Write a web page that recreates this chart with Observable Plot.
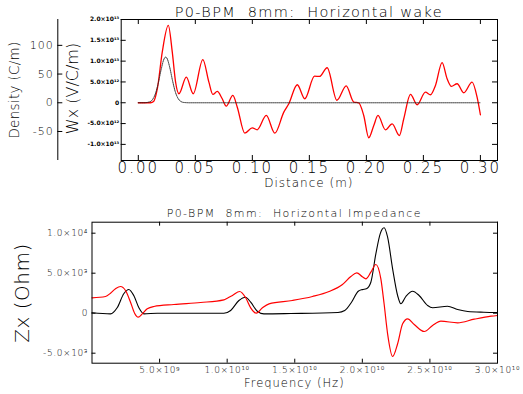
<!DOCTYPE html>
<html><head><meta charset="utf-8">
<script src="https://cdn.jsdelivr.net/npm/d3@7"></script>
<script src="https://cdn.jsdelivr.net/npm/@observablehq/plot@0.6"></script>
<style>
body{margin:0;background:#fff;}
#wrap{position:relative;width:523px;height:394px;}
#wrap svg{position:absolute;left:0;overflow:visible;background:transparent;}
</style></head><body><div id="wrap"></div>
<script>
// ---------- Top panel: horizontal wake ----------
const wakeS = [0, 0.0108, 0.0134, 0.0167, 0.0210, 0.0263, 0.0298, 0.0327, 0.0356, 0.0421, 0.0482, 0.0566, 0.0619, 0.0654, 0.0692, 0.0736, 0.0771, 0.0829, 0.0868, 0.0934, 0.0999, 0.1043, 0.1122, 0.1197, 0.1276, 0.1320, 0.1394, 0.1460, 0.1545, 0.1589, 0.1656, 0.1742, 0.1823, 0.1890, 0.1933, 0.1977, 0.2021, 0.2065, 0.2102, 0.2167, 0.2226, 0.2290, 0.2328, 0.2387, 0.2445, 0.2518, 0.2562, 0.2606, 0.2664, 0.2708, 0.2746, 0.2796, 0.2854, 0.2927, 0.2971, 0.3000];
// Wx in units of 1e12 V/C/m
const wakeWx = [0, 0, 0.3, 3.37, 12.16, 18.58, 12.16, 4.95, 2.16, 6.15, 2.16, 10.34, 4.95, 2.0, 2.72, 0.96, -0.82, 1.75, -1.06, -7.31, -6.01, -6.49, -3.05, -7.31, -2.26, -0.24, 4.33, 0.96, 6.39, 6.32, 8.41, 0.6, 4.04, 0.14, 0, -3.05, -8.41, -5.46, -3.05, -6.49, -5.05, -7.86, -3.85, 2.0, -0.48, 2.55, 1.92, 4.16, 9.62, 5.77, 3.92, 4.57, 2.40, 4.95, 1.35, -2.88];
const densS = [0, 0.005, 0.010, 0.0125, 0.015, 0.0175, 0.020, 0.0225, 0.024, 0.025, 0.0275, 0.030, 0.0325, 0.035, 0.0375, 0.040, 0.045, 0.300];
// density in C/m
const densV = [0, 0, 1.6, 5.6, 15.7, 34.1, 57.7, 76, 79.5, 77.9, 62.2, 38.7, 18.7, 7.1, 2.1, 0.5, 0, 0];

const distTicks = [0, 0.05, 0.10, 0.15, 0.20, 0.25, 0.30];
const distLabels = ["0.00", "0.05", "0.10", "0.15", "0.20", "0.25", "0.30"];
const wxTicks = [-10, -5, 0, 5, 10, 15, 20];
const wxLabels = ["-1.0×10¹³", "-5.0×10¹²", "0", "5.0×10¹²", "1.0×10¹³", "1.5×10¹³", "2.0×10¹³"];
const densTicks = [-50, 0, 50, 100];
const densLabels = ["-50", "0", "50", "100"];
const wxDomain = [-13.87, 20];
const densDomain = [-100.5, 145];
const distDomain = [-0.015, 0.315];

// ---------- Bottom panel: horizontal impedance ----------
const fRed = [0, 1.0, 1.37, 1.74, 2.11, 2.48, 2.85, 3.15, 3.42, 3.72, 4.09, 4.58, 6.06, 8.04, 9.76, 10.01, 10.39, 10.93, 11.37, 11.74, 12.16, 12.61, 13.10, 14.83, 16.31, 17.54, 18.53, 19.15, 19.59, 20.0, 20.26, 20.63, 21.0, 21.37, 21.61, 21.87, 22.24, 22.61, 22.98, 23.35, 23.84, 24.58, 25.2, 25.81, 27.05, 28.28, 29.52, 30.0]; // GHz
const zRed = [1925, 2088, 2500, 3050, 3338, 2838, 1375, 0, -500, -83, 550, 838, 1088, 1338, 1675, 1875, 2213, 2713, 1925, 675, 0, 675, 1175, 1588, 2088, 2713, 3588, 4588, 5050, 4550, 4300, 5125, 6088, 4300, 1175, -2575, -5413, -3825, -1325, -700, -1413, -2288, -1538, -1000, -1200, -750, -375, -288];
const fBlack = [0, 1.37, 1.86, 2.35, 2.72, 3.09, 3.47, 3.84, 4.83, 9.76, 10.26, 10.87, 11.36, 11.74, 12.23, 12.72, 14.7, 18.2, 18.7, 19.2, 19.7, 20.0, 20.3, 20.63, 21.0, 21.32, 21.61, 21.87, 22.24, 22.61, 22.85, 23.22, 23.72, 24.2, 24.83, 25.2, 26.3, 27.05, 27.8, 29.0, 30.0]; // GHz
const zBlack = [50, -83, 675, 2425, 2963, 2213, 675, -83, 0, 0, 338, 1588, 2000, 1375, 250, -83, -40, 88, 338, 1375, 2750, 2950, 3050, 3875, 7425, 9925, 10675, 9500, 5550, 2213, 1175, 2088, 2750, 2213, 963, 675, 875, 463, 213, 125, 88];

const freqTicks = [5, 10, 15, 20, 25, 30];
const freqLabels = ["5.0×10⁹", "1.0×10¹⁰", "1.5×10¹⁰", "2.0×10¹⁰", "2.5×10¹⁰", "3.0×10¹⁰"];
const zTicks = [-5000, 0, 5000, 10000];
const zLabels = ["-5.0×10³", "0", "5.0×10³", "1.0×10⁴"];
const freqDomain = [0, 30];
const zDomain = [-6250, 11375];

const FONT = "DejaVu Sans";
const W = 523;
const wrap = document.getElementById("wrap");
const lab = (ticks, labels) => { const m = new Map(ticks.map((t, i) => [t, labels[i]])); return d => m.get(d); };

// table rows built from arrays
const wakeRows = wakeS.map((s, i) => ({s, w: wakeWx[i]}));
const k = (wxDomain[1] - wxDomain[0]) / (densDomain[1] - densDomain[0]); // density -> Wx scale
const densRows = densS.map((s, i) => ({s, w: densV[i] * k}));

// top plot geometry
const tH = 200, tML = 120.7, tMR = 26, tMT = 19, tMB = 40;
const tPW = W - tML - tMR, tPH = tH - tMT - tMB;
const topPlot = Plot.plot({
  width: W, height: tH, marginLeft: tML, marginRight: tMR, marginTop: tMT, marginBottom: tMB,
  x: {domain: distDomain, label: null},
  y: {domain: wxDomain, label: null},
  style: {fontFamily: FONT, background: "transparent", color: "black"},
  marks: [
    Plot.line(wakeRows, {x: "s", y: "w", stroke: "#ff0000", strokeWidth: 1.3, curve: "monotone-x"}),
    Plot.line(densRows, {x: "s", y: "w", stroke: "#222", strokeWidth: 1, strokeDasharray: "1,1", curve: "monotone-x"}),
    Plot.frame({stroke: "black", strokeWidth: 1}),
    Plot.tickX(distTicks, {x: d => d, insetTop: tPH - 5, stroke: "black"}),
    Plot.tickX(distTicks, {x: d => d, insetBottom: tPH - 5, stroke: "black"}),
    Plot.tickY(wxTicks, {y: d => d, insetRight: tPW - 5, stroke: "black"}),
    Plot.tickY(wxTicks, {y: d => d, insetLeft: tPW - 5, stroke: "black"}),
    Plot.axisX(distTicks, {tickSize: 0, tickPadding: 2, tickFormat: lab(distTicks, distLabels), fontSize: 15, fontWeight: 200, label: null}),
    Plot.axisY(wxTicks, {tickSize: 0, tickPadding: 2, tickFormat: lab(wxTicks, wxLabels), fontSize: 6, fontWeight: "bold", label: null})
  ]
});
topPlot.style.top = "0px";
wrap.appendChild(topPlot);

// density axis overlay
const dML = 57.3;
const densPlot = Plot.plot({
  width: W, height: tH, marginLeft: dML, marginRight: 0, marginTop: tMT, marginBottom: tMB,
  x: {domain: [0, 1], label: null, axis: null},
  y: {domain: densDomain, label: null},
  style: {fontFamily: FONT, background: "transparent", color: "black"},
  marks: [
    Plot.ruleX([0], {stroke: "black"}),
    Plot.tickY(densTicks, {y: d => d, insetRight: (W - dML) - 5, stroke: "black"}),
    Plot.axisY(densTicks, {tickSize: 0, tickPadding: 4, tickFormat: lab(densTicks, densLabels), fontSize: 11, fontWeight: 200, label: null})
  ]
});
densPlot.style.top = "0px";
wrap.appendChild(densPlot);

// bottom plot
const bH = 194, bML = 91.5, bMR = 26, bMT = 21.7, bMB = 31.3;
const bPW = W - bML - bMR, bPH = bH - bMT - bMB;
const botPlot = Plot.plot({
  width: W, height: bH, marginLeft: bML, marginRight: bMR, marginTop: bMT, marginBottom: bMB,
  x: {domain: freqDomain, label: null},
  y: {domain: zDomain, label: null},
  style: {fontFamily: FONT, background: "transparent", color: "black"},
  marks: [
    Plot.line(fBlack.map((f, i) => ({f, z: zBlack[i]})), {x: "f", y: "z", stroke: "black", strokeWidth: 1.1, curve: "monotone-x"}),
    Plot.line(fRed.map((f, i) => ({f, z: zRed[i]})), {x: "f", y: "z", stroke: "#ff0000", strokeWidth: 1.2, curve: "monotone-x"}),
    Plot.frame({stroke: "black", strokeWidth: 1}),
    Plot.tickX(freqTicks, {x: d => d, insetTop: bPH - 4, stroke: "black"}),
    Plot.tickX(freqTicks, {x: d => d, insetBottom: bPH - 4, stroke: "black"}),
    Plot.tickY(zTicks, {y: d => d, insetRight: bPW - 4, stroke: "black"}),
    Plot.tickY(zTicks, {y: d => d, insetLeft: bPW - 4, stroke: "black"}),
    Plot.axisX(freqTicks, {tickSize: 0, tickPadding: 3, tickFormat: lab(freqTicks, freqLabels), fontSize: 9, fontWeight: 200, label: null}),
    Plot.axisY(zTicks, {tickSize: 0, tickPadding: 4, tickFormat: lab(zTicks, zLabels), fontSize: 9, fontWeight: 200, label: null})
  ]
});
botPlot.style.top = "200px";
wrap.appendChild(botPlot);

// letter spacing for wide IDL-like digits
d3.select(topPlot).selectAll("g[aria-label='x-axis tick label'] text").attr("letter-spacing", 2);
d3.select(botPlot).selectAll("g[aria-label='x-axis tick label'] text").attr("letter-spacing", 0.6);
d3.select(botPlot).selectAll("g[aria-label='y-axis tick label'] text").attr("letter-spacing", 0.6);
d3.select(densPlot).selectAll("g[aria-label='y-axis tick label'] text").attr("letter-spacing", 1);

function addText(svg, txt, x, y, size, opts = {}) {
  const t = d3.select(svg).append("text")
    .attr("font-family", FONT).attr("font-size", size).attr("font-weight", opts.weight || 200)
    .attr("fill", "black").attr("text-anchor", "middle")
    .attr("letter-spacing", opts.ls || 0)
    .attr("transform", `translate(${x},${y})` + (opts.rotate ? " rotate(-90)" : ""))
    .text(txt);
  return t;
}
addText(topPlot, "P0-BPM  8mm:  Horizontal wake", tML + tPW / 2, 16.5, 14.5, {ls: 1.3});
addText(topPlot, "Distance (m)", tML + tPW / 2, 186.5, 12, {ls: 1});
addText(densPlot, "Density (C/m)", 19, 90, 13.5, {rotate: true, ls: 0.3});
addText(densPlot, "Wx (V/C/m)", 78, 88.5, 16, {rotate: true, ls: 0});
addText(botPlot, "P0-BPM  8mm:  Horizontal Impedance", bML + bPW / 2, 16.8, 11, {ls: 1.4});
addText(botPlot, "Frequency (Hz)", bML + bPW / 2, 186.5, 11.5, {ls: 1});
addText(botPlot, "Zx (Ohm)", 28.5, 93, 20, {rotate: true, ls: 0.5});
</script></body></html>
